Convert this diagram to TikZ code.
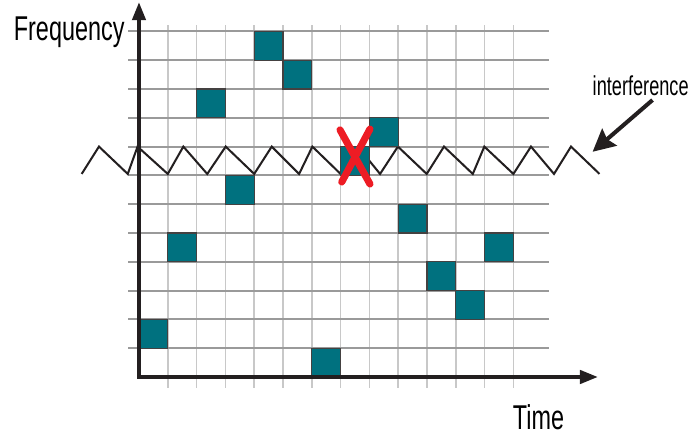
\documentclass[tikz,border=0pt]{standalone}
\usepackage{fontspec}
\setmainfont{Liberation Sans}
\newfontfamily\narrowsans[FakeStretch=0.68]{Liberation Sans}
\newfontfamily\narrowersans[FakeStretch=0.665]{Liberation Sans}
\usetikzlibrary{arrows.meta}
\definecolor{hopteal}{HTML}{00717F}
\definecolor{xred}{HTML}{ED1C24}
\definecolor{hgrid}{HTML}{9A9A9A}
\definecolor{vgrid}{HTML}{C8C8C8}
\definecolor{ink}{HTML}{231F20}
\tikzset{
  vline/.style={draw=vgrid, line width=0.7pt},
  hline/.style={draw=hgrid, line width=1pt},
  hopcell/.style={fill=hopteal, draw=ink!85, line width=0.6pt},
  jam/.style={draw=ink, line width=1pt},
  cross/.style={draw=xred, line width=3.5pt, line cap=round},
  axisline/.style={draw=ink, line width=2pt, {Triangle[length=9pt,width=6.5pt]}-{Triangle[length=9pt,width=6.5pt]}},
  pointer/.style={draw=ink, line width=2pt, -{Stealth[length=11pt,width=11pt,inset=1.5pt]}},
  axislabel/.style={inner sep=0pt, font=\narrowsans\fontsize{17}{20}\selectfont},
  smalllabel/.style={inner sep=0pt, font=\narrowersans\fontsize{13.5}{16}\selectfont}
}
\begin{document}
\begin{tikzpicture}[x=0.5cm,y=0.5cm]
\useasboundingbox (-4.826,-2.014) rectangle (19.132,13.090);

\foreach \i in {1,...,13}
  \draw[vline] (\i,-0.38) -- (\i,12.22);
\foreach \j in {1,...,12}
  \draw[hline] (-0.38,\j) -- (14.24,\j);

\draw[jam] (-1.99,7.05) -- (-1.39,8) -- (-0.39,7.05) -- (-0.05,8) -- (1.0,7.05) -- (1.54,8)
  -- (2.37,7.05) -- (3.01,8) -- (4.0,7.05) -- (4.61,8) -- (5.56,7.05) -- (6.02,8)
  -- (7.0,7.05) -- (7.6,8) -- (8.37,7.05) -- (8.99,8) -- (9.99,7.05) -- (10.59,8)
  -- (11.59,7.05) -- (11.99,8) -- (13.0,7.05) -- (13.61,8) -- (14.41,7.05) -- (15.0,8)
  -- (15.99,7.05);

\foreach \c/\r in {4/11,5/10,2/9,8/8,7/7,3/6,9/5,1/4,12/4,10/3,11/2,0/1,6/0}
  \draw[hopcell] (\c,\r) rectangle ++(1,1);

\draw[cross] (6.98,8.58) -- (8.02,6.70);
\draw[cross] (8.02,8.61) -- (7.04,6.77);

\coordinate (origin) at (0,0);
\coordinate (ftop) at (0,13.02);
\coordinate (tend) at (15.94,0);
\draw[axisline] (ftop) -- (origin) -- (tend);

\node[axislabel, anchor=base east] (freq) at (-0.49,11.7) {Frequency};
\node[axislabel, anchor=base west] (time) at (12.97,-1.81) {Time};
\node[smalllabel, anchor=base west] (intf) at (15.74,9.79) {interference};

\coordinate (hit) at (15.75,7.82);
\draw[pointer] (intf.south) ++(0.41,-0.15) -- (hit);
\end{tikzpicture}
\end{document}
